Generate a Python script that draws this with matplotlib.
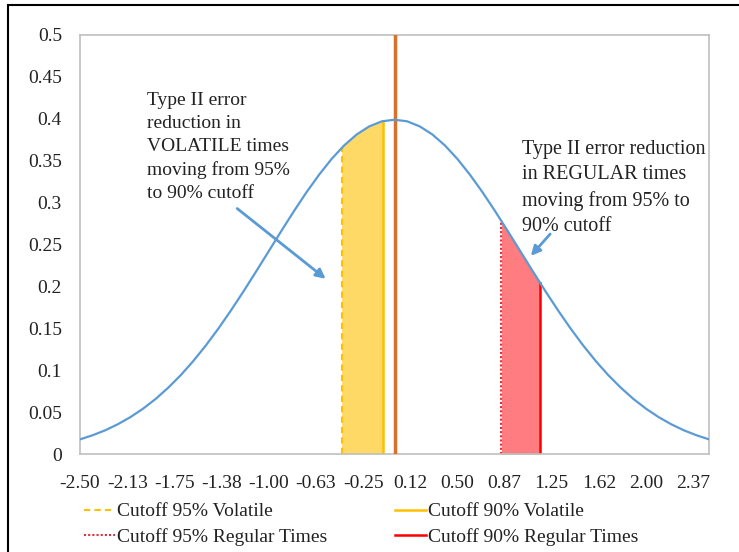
import matplotlib.pyplot as plt
import numpy as np
from matplotlib.patches import Rectangle
from matplotlib.lines import Line2D

# curve values
x_vals = [-2.5, -2.4, -2.3, -2.2, -2.1, -2.0, -1.9, -1.8, -1.7, -1.6, -1.5, -1.4, -1.3,
          -1.2, -1.1, -1.0, -0.9, -0.8, -0.7, -0.6, -0.5, -0.4, -0.3, -0.2, -0.1, 0.0,
          0.1, 0.2, 0.3, 0.4, 0.5, 0.6, 0.7, 0.8, 0.9, 1.0, 1.1, 1.2, 1.3, 1.4, 1.5,
          1.6, 1.7, 1.8, 1.9, 2.0, 2.1, 2.2, 2.3, 2.4, 2.5]
y_vals = [0.0175, 0.0224, 0.0283, 0.0355, 0.0440, 0.0540, 0.0656, 0.0790, 0.0940, 0.1109,
          0.1295, 0.1497, 0.1714, 0.1942, 0.2179, 0.2420, 0.2661, 0.2897, 0.3123, 0.3332,
          0.3521, 0.3683, 0.3814, 0.3910, 0.3970, 0.3989, 0.3970, 0.3910, 0.3814, 0.3683,
          0.3521, 0.3332, 0.3123, 0.2897, 0.2661, 0.2420, 0.2179, 0.1942, 0.1714, 0.1497,
          0.1295, 0.1109, 0.0940, 0.0790, 0.0656, 0.0540, 0.0440, 0.0355, 0.0283, 0.0224,
          0.0175]

tick_labels = ["-2.50", "-2.13", "-1.75", "-1.38", "-1.00", "-0.63", "-0.25", "0.12",
               "0.50", "0.87", "1.25", "1.62", "2.00", "2.37"]
tick_pos = [-2.5, -2.125, -1.75, -1.375, -1.0, -0.625, -0.25, 0.125, 0.5, 0.875,
            1.25, 1.625, 2.0, 2.375]

mean_x = 0.0
# cutoffs (x, curve height at x)
vol95 = (-0.42, 0.365)
vol90 = (-0.09, 0.397)
reg95 = (0.85, 0.278)
reg90 = (1.16, 0.204)

plt.rcParams['font.family'] = ['Liberation Serif', 'DejaVu Serif']
plt.rcParams['font.size'] = 14

blue = '#5B9BD5'
fig = plt.figure(figsize=(7.39, 5.52), dpi=100)
ax = fig.add_axes([0.1083, 0.1775, 0.8511, 0.7591])

xs = np.array(x_vals)
ys = np.array(y_vals)


def band(lo, hi):
    m = (xs > lo[0]) & (xs < hi[0])
    bx = [lo[0]] + list(xs[m]) + [hi[0]]
    by = [lo[1]] + list(ys[m]) + [hi[1]]
    return bx, by


bx, by = band(vol95, vol90)
ax.fill_between(bx, 0, by, color='#FFD966', lw=0, zorder=1)
bx, by = band(reg95, reg90)
ax.fill_between(bx, 0, by, color='#FF7C80', lw=0, zorder=1)

ax.plot([vol95[0], vol95[0]], [0, vol95[1]], color='#FFC000', ls=(0, (3, 2)), lw=1.5, zorder=2)
ax.plot([vol90[0], vol90[0]], [0, vol90[1]], color='#FFC000', lw=1.8, zorder=2)
ax.plot([reg95[0], reg95[0]], [0, reg95[1]], color='#E0303A', ls=(0, (1, 1)), lw=1.5, zorder=2)
ax.plot([reg90[0], reg90[0]], [0, reg90[1]], color='#FF0000', lw=1.8, zorder=2)
ax.plot([mean_x, mean_x], [0, 0.5], color='#D8702E', lw=2.5, zorder=3)

ax.plot(xs, ys, color=blue, lw=1.6, zorder=4)

ax.set_xlim(-2.5, 2.5)
ax.set_ylim(0, 0.5)
ax.set_xticks(tick_pos)
ax.set_xticklabels(tick_labels)
ax.set_yticks([0, 0.05, 0.1, 0.15, 0.2, 0.25, 0.3, 0.35, 0.4, 0.45, 0.5])
ax.set_yticklabels(["0", "0.05", "0.1", "0.15", "0.2", "0.25", "0.3", "0.35", "0.4",
                    "0.45", "0.5"])
ax.tick_params(length=0, colors='#222222', labelsize=14)
ax.tick_params(axis='y', pad=13)
ax.tick_params(axis='x', pad=15)
for s in ax.spines.values():
    s.set_color('#BFBFBF')
    s.set_linewidth(1.2)

ax.text(-1.967, 0.432, "Type II error\nreduction in\nVOLATILE times\nmoving from 95%\nto 90% cutoff",
        va='top', ha='left', color='#222222', linespacing=1.45)
ax.text(1.013, 0.3747, "Type II error reduction\nin REGULAR times\nmoving from 95% to\n90% cutoff",
        va='top', ha='left', color='#222222', linespacing=1.45, fontsize=14.5)

ax.annotate("", xy=(-0.53, 0.207), xytext=(-1.268, 0.295),
            arrowprops=dict(arrowstyle='-|>', color=blue, lw=2, mutation_scale=14))
ax.annotate("", xy=(1.069, 0.234), xytext=(1.252, 0.265),
            arrowprops=dict(arrowstyle='-|>', color=blue, lw=2, mutation_scale=14))

handles = [Line2D([], [], color='#FFC000', ls=(0, (3, 2)), lw=1.5),
           Line2D([], [], color='#E0303A', ls=(0, (1, 1)), lw=1.5),
           Line2D([], [], color='#FFC000', lw=1.8),
           Line2D([], [], color='#FF0000', lw=1.8)]
labels = ["Cutoff 95% Volatile", "Cutoff 95% Regular Times",
          "Cutoff 90% Volatile", "Cutoff 90% Regular Times"]
fig.legend(handles, labels, ncol=2, loc='upper left', bbox_to_anchor=(0.1135, 0.089),
           frameon=False, handlelength=1.6, handletextpad=0.1, columnspacing=3.5,
           labelspacing=0.4, borderaxespad=0, borderpad=0, labelcolor='#222222')

# outer frame of the source figure (top and left edges visible)
fig.patches.append(Rectangle((8 / 739, -0.2), 1.2, 1.2 - 5 / 552, transform=fig.transFigure,
                             fill=False, ec='black', lw=1.5))

fig.savefig("out.png", dpi=100)
